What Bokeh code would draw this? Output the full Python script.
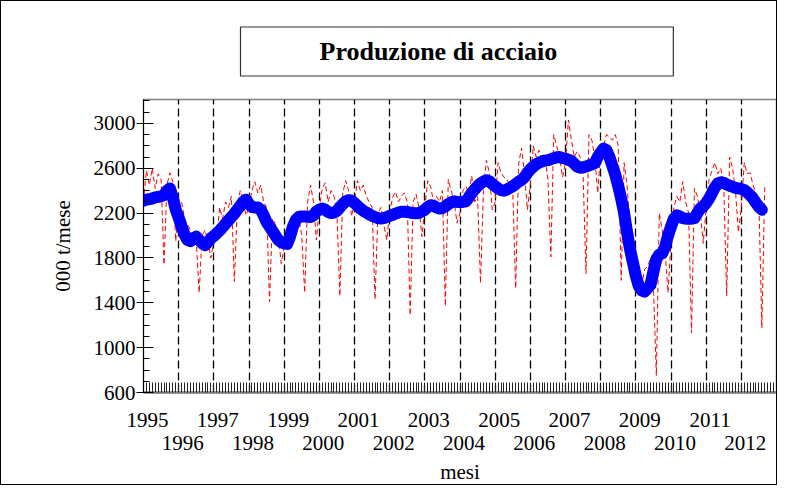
from bokeh.plotting import figure
from bokeh.models import FixedTicker, Range1d, LinearAxis, CustomJSTickFormatter
from bokeh.embed import file_html
from bokeh.resources import INLINE

# ---------------- data ----------------
anni = list(range(1995, 2013))
anni_riga1 = [a for a in anni if a % 2 == 1]   # 1995, 1997, ...
anni_riga2 = [a for a in anni if a % 2 == 0]   # 1996, 1998, ...
y_ticks = [600, 1000, 1400, 1800, 2200, 2600, 3000]

# monthly production (000 t), Jan 1995 - Sep 2012
produzione = [
    2300, 2580, 2450, 2600, 2420, 2550, 2500, 1740, 2450, 2560, 2480, 1950,  # 1995
    2250, 2300, 2150, 2100, 2050, 2000, 1950, 1490, 2000, 2050, 1950, 1800,  # 1996
    1950, 2000, 2250, 2150, 2300, 2250, 2350, 1590, 2250, 2400, 2300, 2180,  # 1997
    2250, 2400, 2480, 2380, 2450, 2300, 2250, 1410, 2150, 2100, 2000, 1750,  # 1998
    1900, 2050, 2100, 2000, 2200, 2150, 2000, 1490, 2300, 2450, 2300, 1960,  # 1999
    2250, 2420, 2470, 2300, 2400, 2350, 2200, 1460, 2380, 2490, 2400, 2170,  # 2000
    2300, 2490, 2400, 2450, 2350, 2300, 2250, 1430, 2200, 2250, 2100, 1960,  # 2001
    2200, 2340, 2390, 2300, 2350, 2380, 2300, 1290, 2300, 2370, 2250, 1990,  # 2002
    2250, 2490, 2430, 2300, 2350, 2300, 2400, 1370, 2500, 2400, 2300, 2110,  # 2003
    2200, 2400, 2440, 2380, 2530, 2300, 2350, 1575, 2400, 2670, 2560, 2230,  # 2004
    2300, 2650, 2560, 2520, 2500, 2450, 2400, 1530, 2640, 2780, 2550, 2230,  # 2005
    2450, 2800, 2700, 2760, 2650, 2700, 2500, 1810, 2900, 2800, 2700, 2520,  # 2006
    2650, 3030, 2850, 2700, 2750, 2700, 2550, 1660, 2900, 2850, 2700, 2380,  # 2007
    2750, 2800, 2900, 2880, 2850, 2900, 2800, 1600, 2650, 2450, 2100, 1700,  # 2008
    1500, 1620, 1550, 1700, 1720, 1800, 1550, 750, 2200, 2050, 1850, 1490,   # 2009
    1950, 2250, 2350, 2300, 2480, 2300, 2200, 1130, 2420, 2350, 2200, 1930,  # 2010
    2250, 2500, 2580, 2650, 2550, 2600, 2450, 1460, 2700, 2600, 2400, 2030,  # 2011
    2250, 2650, 2550, 2560, 2450, 2380, 2300, 1175, 2450,                    # 2012
]

# trend (000 t), Jan 1995 - Aug 2012
tendenza = [
    2310, 2320, 2325, 2330, 2340, 2345, 2350, 2360, 2400, 2420, 2340, 2230,  # 1995
    2160, 2080, 2010, 1960, 1950, 1975, 1990, 1960, 1930, 1915, 1940, 1975,  # 1996
    1995, 2020, 2045, 2075, 2105, 2135, 2165, 2195, 2230, 2265, 2300, 2320,  # 1997
    2280, 2255, 2250, 2250, 2230, 2180, 2120, 2080, 2040, 2000, 1960, 1940,  # 1998
    1930, 1925, 1990, 2080, 2140, 2165, 2170, 2170, 2168, 2165, 2180, 2215,  # 1999
    2230, 2240, 2230, 2210, 2200, 2205, 2220, 2250, 2280, 2305, 2315, 2310,  # 2000
    2290, 2265, 2240, 2220, 2205, 2190, 2175, 2165, 2155, 2152, 2155, 2165,  # 2001
    2175, 2185, 2195, 2205, 2212, 2212, 2210, 2205, 2200, 2198, 2200, 2215,  # 2002
    2230, 2255, 2270, 2265, 2250, 2240, 2245, 2260, 2280, 2295, 2305, 2300,  # 2003
    2300, 2300, 2305, 2340, 2380, 2410, 2440, 2465, 2480, 2493, 2485, 2460,  # 2004
    2440, 2420, 2405, 2400, 2410, 2425, 2440, 2460, 2480, 2495, 2520, 2560,  # 2005
    2590, 2615, 2635, 2650, 2660, 2668, 2672, 2680, 2690, 2698, 2700, 2690,  # 2006
    2685, 2675, 2665, 2640, 2615, 2605, 2608, 2615, 2625, 2635, 2645, 2700,  # 2007
    2740, 2775, 2760, 2700, 2620, 2540, 2440, 2330, 2200, 2030, 1880, 1760,  # 2008
    1640, 1550, 1510, 1500, 1530, 1560, 1680, 1790, 1830, 1840, 1900, 2000,  # 2009
    2080, 2150, 2180, 2170, 2155, 2150, 2150, 2150, 2155, 2200, 2240, 2260,  # 2010
    2290, 2330, 2380, 2430, 2465, 2475, 2470, 2455, 2445, 2435, 2425, 2420,  # 2011
    2415, 2405, 2385, 2360, 2330, 2290, 2255, 2230,                          # 2012
]

mesi_prod = [1995 + i / 12 for i in range(len(produzione))]
mesi_tend = [1995 + i / 12 for i in range(len(tendenza))]

# ---------------- layout ----------------
W, H = 777, 485                      # canvas (plus 1px css border = 779 x 487)
FL, FR, FT, FB = 142, 775, 98, 392   # frame edges in canvas px
X0, X1 = 1995, 2013
Y0, Y1 = 600, 3213
FONT = "Liberation Serif"

p = figure(width=W, height=H, x_range=Range1d(X0, X1), y_range=Range1d(Y0, Y1),
           output_backend="svg", toolbar_location=None,
           min_border_left=FL, min_border_right=W - FR,
           min_border_top=FT, min_border_bottom=H - FB)
p.styles = {"border": "1px solid black"}
p.background_fill_color = "white"
p.border_fill_color = "white"
p.outline_line_color = "#808080"
p.outline_line_width = 1.5

# title in a box
p.title.text = "Produzione di acciaio"
p.title.text_font = FONT
p.title.text_font_style = "bold"
p.title.text_font_size = "26px"
p.title.text_color = "black"
p.title.align = "left"
p.title.offset = 97
p.title.standoff = 47
p.title.border_line_color = "#333333"
p.title.border_line_width = 1.2
p.title.padding = dict(left=79, right=116, top=10, bottom=10)

# y axis
ya = p.yaxis[0]
ya.ticker = FixedTicker(ticks=y_ticks, minor_ticks=list(range(600, 3300, 100)))
ya.axis_line_color = "black"
ya.major_tick_in = 10
ya.major_tick_out = 7
ya.minor_tick_in = 6
ya.minor_tick_out = 0
ya.major_tick_line_color = "black"
ya.minor_tick_line_color = "black"
ya.major_label_text_font = FONT
ya.major_label_text_font_size = "21px"
ya.major_label_text_color = "black"
ya.major_label_standoff = 1
ya.axis_label = "000 t/mese"
ya.axis_label_text_font = FONT
ya.axis_label_text_font_style = "normal"
ya.axis_label_text_font_size = "21px"
ya.axis_label_text_color = "black"
ya.axis_label_standoff = 16

# x axis: monthly ticks only (no labels)
xa = p.xaxis[0]
xa.ticker = FixedTicker(ticks=[], minor_ticks=[1995 + m / 12 for m in range(18 * 12 + 1)])
xa.minor_tick_in = 10
xa.minor_tick_out = 0
xa.minor_tick_line_color = "#222222"
xa.axis_line_color = "#808080"
xa.axis_line_width = 2.5
xa.major_label_standoff = 0

# year labels on two staggered rows (extra axes below)
dx = 4 * (X1 - X0) / (FR - FL)
fmt = CustomJSTickFormatter(code="return Math.floor(tick + 0.001).toFixed(0);")


def year_axis(years, standoff, label=None):
    ax = LinearAxis(ticker=FixedTicker(ticks=[a + dx for a in years], minor_ticks=[]),
                    formatter=fmt)
    ax.axis_line_color = None
    ax.major_tick_line_color = None
    ax.minor_tick_line_color = None
    ax.major_tick_in = 0
    ax.major_tick_out = 0
    ax.minor_tick_in = 0
    ax.minor_tick_out = 0
    ax.major_label_text_font = FONT
    ax.major_label_text_font_size = "21px"
    ax.major_label_text_color = "black"
    ax.major_label_standoff = standoff
    if label:
        ax.axis_label = label
        ax.axis_label_text_font = FONT
        ax.axis_label_text_font_style = "normal"
        ax.axis_label_text_font_size = "21px"
        ax.axis_label_text_color = "black"
        ax.axis_label_standoff = 7
    return ax


p.add_layout(year_axis(anni_riga1, 20), "below")
p.add_layout(year_axis(anni_riga2, 6, "mesi"), "below")

# grids
p.ygrid.grid_line_color = None
p.xgrid.ticker = FixedTicker(ticks=anni[1:])
p.xgrid.grid_line_color = "black"
p.xgrid.grid_line_dash = "8 4"
p.xgrid.grid_line_width = 1.3

# series
p.line(mesi_prod, produzione, line_color="#ff0000", line_width=1, line_dash="5 3")
p.line(mesi_tend, tendenza, line_color="#0000ff", line_width=12,
       line_join="round", line_cap="round")

open("out.html", "w").write(file_html(p, INLINE))
